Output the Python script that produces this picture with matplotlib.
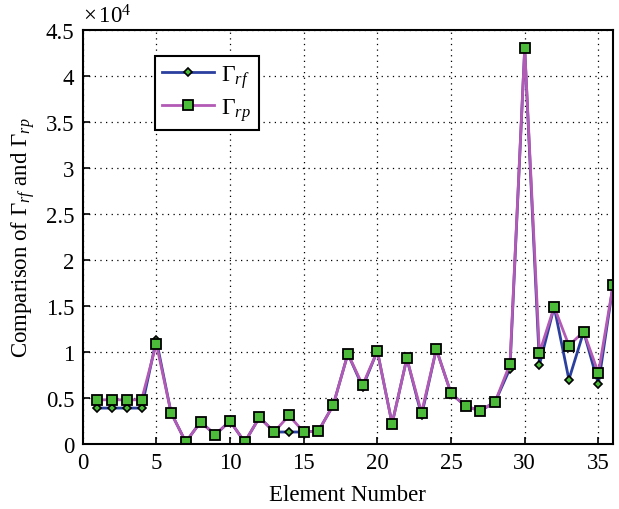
import matplotlib.pyplot as plt
import matplotlib.ticker as mticker

plt.rcParams['font.family'] = 'Liberation Serif'
plt.rcParams['mathtext.fontset'] = 'custom'
plt.rcParams['mathtext.rm'] = 'Liberation Serif'
plt.rcParams['mathtext.it'] = 'Liberation Serif:italic'

element = list(range(1, 37))
gamma_rf = [0.39, 0.39, 0.39, 0.39, 1.13, 0.34, 0.02, 0.24, 0.10, 0.25,
            0.02, 0.29, 0.13, 0.13, 0.13, 0.14, 0.42, 0.98, 0.62, 1.01,
            0.22, 0.93, 0.31, 1.03, 0.55, 0.41, 0.36, 0.46, 0.82, 4.30,
            0.86, 1.49, 0.70, 1.22, 0.65, 1.73]
gamma_rp = [0.48, 0.48, 0.48, 0.48, 1.09, 0.34, 0.02, 0.24, 0.10, 0.25,
            0.02, 0.29, 0.13, 0.31, 0.13, 0.14, 0.42, 0.98, 0.64, 1.01,
            0.22, 0.93, 0.34, 1.03, 0.55, 0.41, 0.36, 0.46, 0.87, 4.30,
            0.99, 1.49, 1.07, 1.22, 0.77, 1.73]

fig = plt.figure(figsize=(6.19, 5.10), dpi=100)
ax = fig.add_axes([0.1335, 0.1275, 0.857, 0.812])

ax.plot(element, gamma_rf, color='#2a3f9e', lw=2, marker='D', ms=4.5,
        mfc='#4cbb3a', mec='black', mew=1.2, label=r'$\Gamma_{rf}$')
ax.plot(element, gamma_rp, color='#b35ab5', lw=2, marker='s', ms=7,
        mfc='#4cbb3a', mec='black', mew=1.3, label=r'$\Gamma_{rp}$')

ax.set_xlim(0, 36)
ax.set_ylim(0, 4.5)
ax.set_xticks(range(0, 36, 5))
ax.set_yticks([0, 0.5, 1, 1.5, 2, 2.5, 3, 3.5, 4, 4.5])
ax.yaxis.set_major_formatter(mticker.FuncFormatter(lambda v, p: f'{v:g}'))
ax.tick_params(labelsize=16.5, direction='in', length=5, width=1.2, pad=6)
for s in ax.spines.values():
    s.set_linewidth(1.5)
ax.grid(True, color='black', linestyle=(0, (1, 3.5)), lw=0.9)

ax.text(0.0, 1.005, r'$\times\,10^4$', transform=ax.transAxes, fontsize=16.5,
        ha='left', va='bottom')
ax.set_xlabel('Element Number', fontsize=16.5, labelpad=8)
ax.set_ylabel(r'Comparison of $\Gamma_{rf}$ and $\Gamma_{rp}$', fontsize=16.5,
              labelpad=6)

leg = ax.legend(loc='upper left', bbox_to_anchor=(0.137, 0.937), fontsize=17,
                fancybox=False, framealpha=1, edgecolor='black',
                borderaxespad=0, handlelength=2.2, borderpad=0.3,
                labelspacing=0.25, handletextpad=0.3)
leg.get_frame().set_linewidth(1.5)

fig.savefig('out.png', dpi=100)
